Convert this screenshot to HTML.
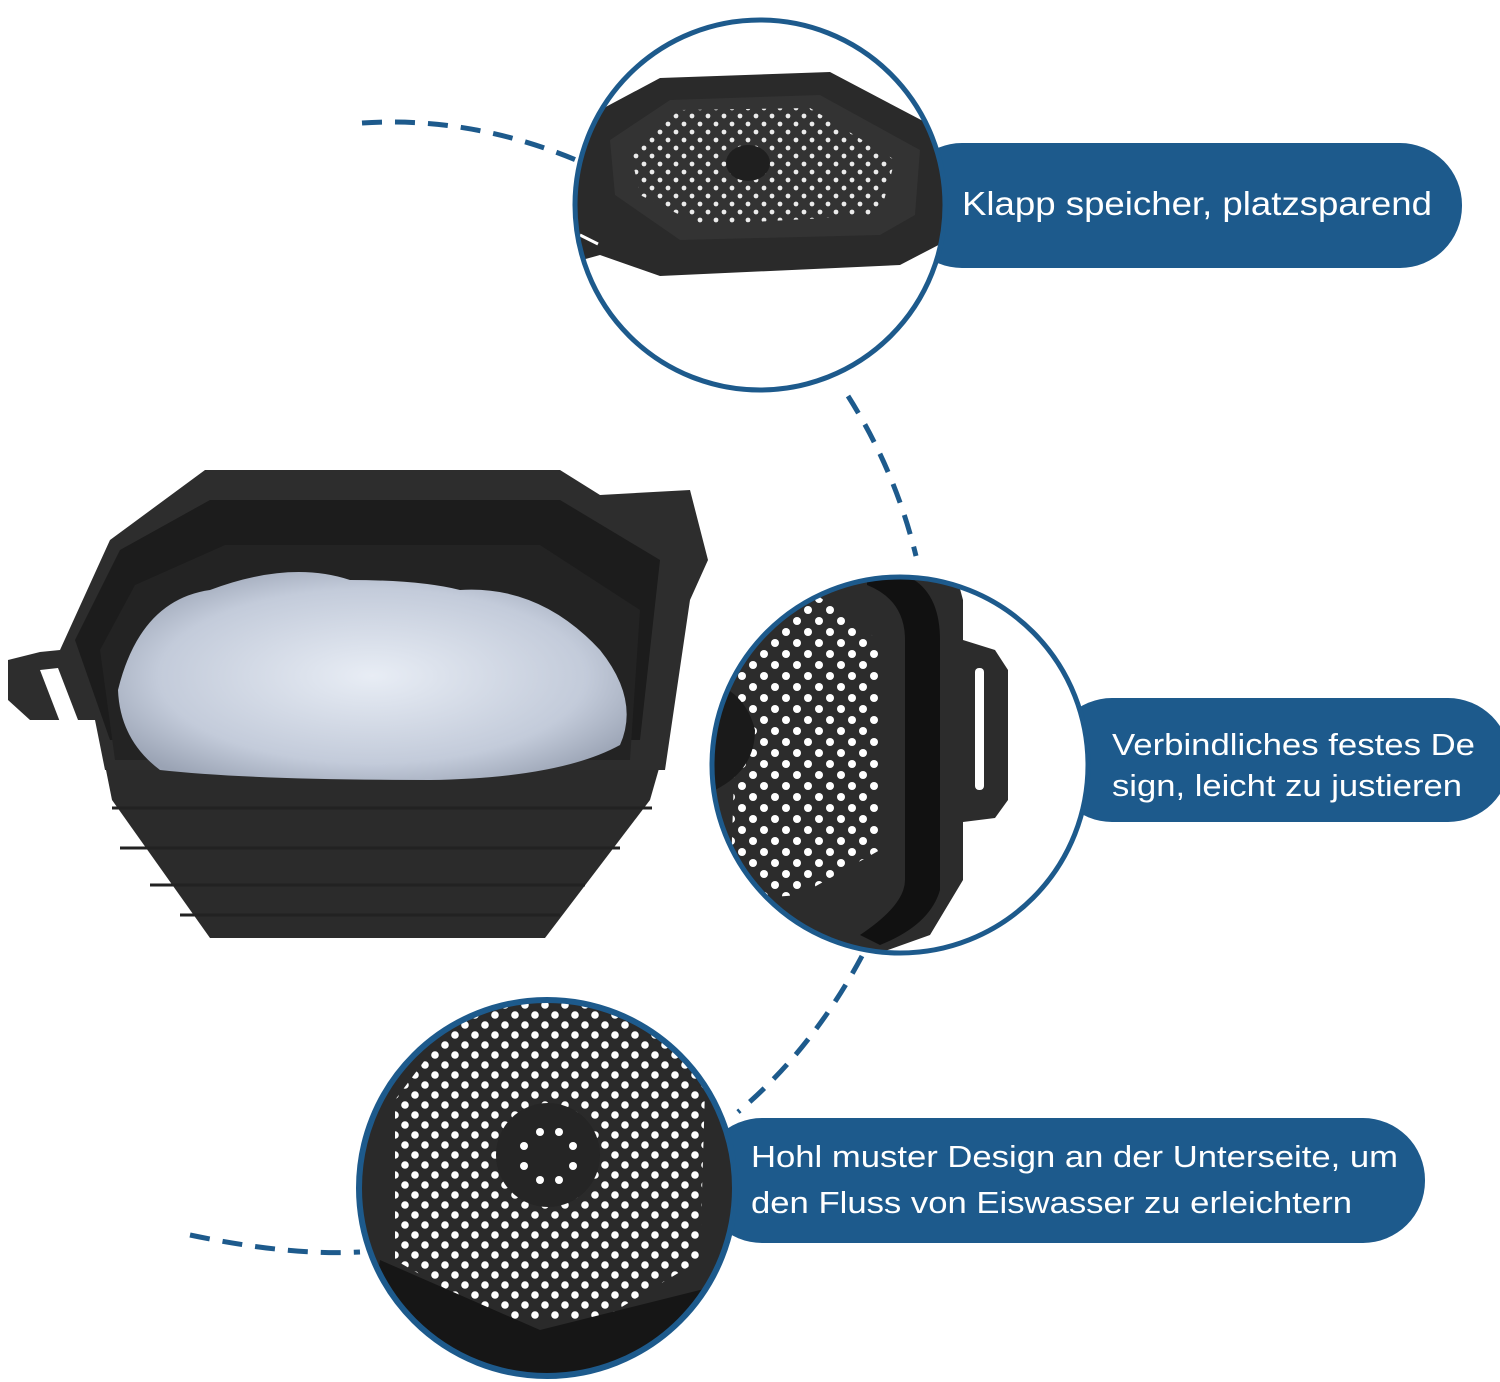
<!DOCTYPE html>
<html><head><meta charset="utf-8"><style>
html,body{margin:0;padding:0;background:#fff}
svg{display:block}
text{font-family:"Liberation Sans",sans-serif;fill:#fff}
</style></head><body>
<svg width="1500" height="1382" viewBox="0 0 1500 1382" xmlns="http://www.w3.org/2000/svg">
<defs>
<pattern id="dots" width="22" height="22" patternUnits="userSpaceOnUse">
<circle cx="5" cy="5" r="4" fill="#fff"/><circle cx="16" cy="16" r="4" fill="#fff"/>
</pattern>
<pattern id="dots3" width="20" height="20" patternUnits="userSpaceOnUse">
<circle cx="5" cy="5" r="3.8" fill="#fff"/><circle cx="15" cy="15" r="3.8" fill="#fff"/>
</pattern>
<pattern id="dotsS" width="16" height="16" patternUnits="userSpaceOnUse">
<circle cx="4" cy="4" r="2.4" fill="#fff"/><circle cx="12" cy="12" r="2.4" fill="#fff"/>
</pattern>
<clipPath id="c1"><circle cx="760" cy="205" r="185"/></clipPath>
<clipPath id="c2"><circle cx="900" cy="765" r="188"/></clipPath>
<clipPath id="c3"><circle cx="547" cy="1188" r="188"/></clipPath>
<radialGradient id="ice" cx="0.5" cy="0.5" r="0.6">
<stop offset="0" stop-color="#e8edf5"/><stop offset="0.7" stop-color="#c3cbda"/><stop offset="1" stop-color="#9aa3b4"/>
</radialGradient>
</defs>

<g fill="none" stroke="#1d5a8c" stroke-width="5" stroke-dasharray="20 13">
<path d="M362 123 Q470 116 576 160"/>
<path d="M848 396 Q895 470 916 556"/>
<path d="M862 956 Q812 1050 738 1112"/>
<path d="M190 1235 Q290 1256 360 1252"/>
</g>

<!-- main bowl -->
<g>
<path d="M105 765 L660 765 L650 800 L545 938 L210 938 L112 800 Z" fill="#2b2b2b"/>
<path d="M112 808 H652 M120 848 H620 M150 885 H585 M180 915 H560" stroke="#222" stroke-width="3"/>
<path d="M8 660 L40 652 L60 650 L110 540 L205 470 L560 470 L600 495 L690 490 L708 560 L690 600 L665 770 L105 770 L95 720 L30 720 L8 700 Z" fill="#2d2d2d"/>
<path d="M40 670 L58 668 L78 720 L60 722 Z" fill="#fff"/>
<path d="M75 640 L120 550 L210 500 L560 500 L660 560 L640 740 L110 740 Z" fill="#1c1c1c"/>
<path d="M100 650 L135 585 L225 545 L540 545 L640 610 L630 760 L115 760 Z" fill="#232323"/>
<path d="M118 690 Q140 600 210 590 Q290 560 350 580 Q420 580 460 590 Q540 585 600 650 Q640 700 620 745 Q560 778 430 780 Q250 780 160 770 Q120 740 118 690 Z" fill="url(#ice)"/>
</g>

<rect x="900" y="143" width="562" height="125" rx="62" fill="#1d5a8c"/>
<rect x="1050" y="698" width="460" height="124" rx="62" fill="#1d5a8c"/>
<rect x="700" y="1118" width="725" height="125" rx="62" fill="#1d5a8c"/>

<!-- circle 1 -->
<circle cx="760" cy="205" r="185" fill="#fff"/>
<g clip-path="url(#c1)">
<path d="M575 140 L600 110 L660 78 L830 72 L940 130 L948 240 L900 265 L660 276 L600 255 L575 262 Z" fill="#2a2a2a"/>
<path d="M610 140 L670 100 L820 95 L920 150 L915 215 L880 235 L680 240 L615 195 Z" fill="#333"/>
<path d="M630 150 L680 110 L810 108 L895 160 L880 215 L700 225 L640 195 Z" fill="url(#dotsS)" opacity="0.9"/>
<ellipse cx="748" cy="163" rx="22" ry="18" fill="#1f1f1f"/>
<path d="M580 235 L598 244" stroke="#fff" stroke-width="3"/>
</g>
<circle cx="760" cy="205" r="185" fill="none" stroke="#1d5a8c" stroke-width="5"/>

<!-- circle 2 -->
<circle cx="900" cy="765" r="188" fill="#fff"/>
<g clip-path="url(#c2)">
<path d="M700 570 L955 570 L963 600 L963 640 L995 650 L1008 670 L1008 800 L995 818 L963 822 L963 880 L930 935 L860 960 L700 960 Z" fill="#2c2c2c"/>
<path d="M867 575 L905 575 Q940 590 940 640 L940 890 Q930 925 880 945 L860 935 Q905 905 905 880 L905 640 Q905 600 867 585 Z" fill="#111"/>
<rect x="975" y="668" width="9" height="122" rx="4" fill="#fff"/>
<path d="M740 590 L810 590 L878 640 L880 850 L800 895 L730 900 Z" fill="url(#dots)"/>
<path d="M705 680 Q745 690 755 730 Q755 770 715 790 Z" fill="#1a1a1a"/>
</g>
<circle cx="900" cy="765" r="188" fill="none" stroke="#1d5a8c" stroke-width="5"/>

<!-- circle 3 -->
<circle cx="547" cy="1188" r="188" fill="#2a2a2a"/>
<g clip-path="url(#c3)">
<path d="M395 1100 L470 1000 L650 1000 L705 1090 L700 1260 L600 1320 L500 1320 L395 1260 Z" fill="url(#dots3)"/>
<circle cx="548" cy="1155" r="52" fill="#252525"/>
<circle cx="540" cy="1132" r="4" fill="#fff"/><circle cx="559" cy="1132" r="4" fill="#fff"/>
<circle cx="524" cy="1146" r="4" fill="#fff"/><circle cx="573" cy="1146" r="4" fill="#fff"/>
<circle cx="524" cy="1166" r="4" fill="#fff"/><circle cx="573" cy="1166" r="4" fill="#fff"/>
<circle cx="540" cy="1180" r="4" fill="#fff"/><circle cx="559" cy="1180" r="4" fill="#fff"/>
<path d="M380 1260 L540 1330 L740 1280 L740 1390 L360 1390 Z" fill="#161616"/>
</g>
<circle cx="547" cy="1188" r="188" fill="none" stroke="#1d5a8c" stroke-width="6"/>

<text x="962" y="215" font-size="33" textLength="470" lengthAdjust="spacingAndGlyphs">Klapp speicher, platzsparend</text>
<text x="1112" y="755" font-size="31" textLength="363" lengthAdjust="spacingAndGlyphs">Verbindliches festes De</text>
<text x="1112" y="796" font-size="31" textLength="350" lengthAdjust="spacingAndGlyphs">sign, leicht zu justieren</text>
<text x="751" y="1167" font-size="31" textLength="647" lengthAdjust="spacingAndGlyphs">Hohl muster Design an der Unterseite, um</text>
<text x="751" y="1213" font-size="31" textLength="601" lengthAdjust="spacingAndGlyphs">den Fluss von Eiswasser zu erleichtern</text>
</svg>
</body></html>
